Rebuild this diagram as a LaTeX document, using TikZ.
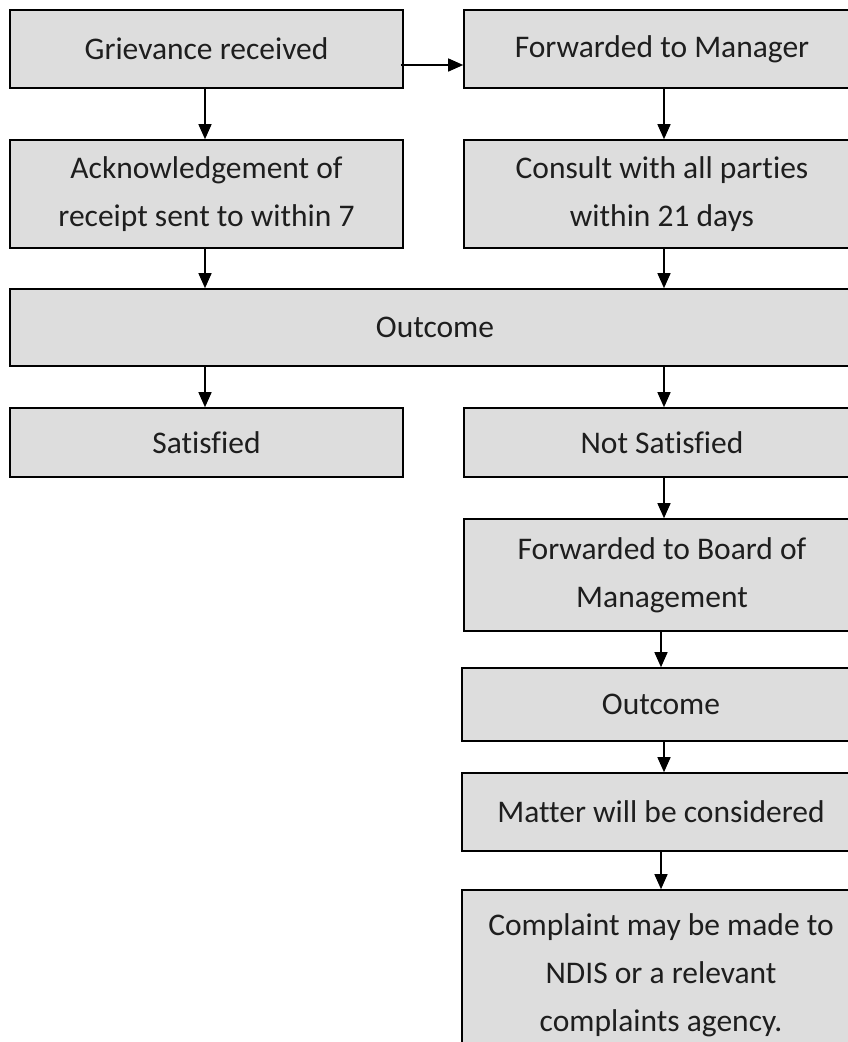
\documentclass[tikz,border=0pt]{standalone}
\usepackage{fontspec}
\setmainfont[Ligatures=NoCommon]{Carlito}
\usetikzlibrary{arrows.meta,calc}
\definecolor{boxfill}{RGB}{221,221,221}
\definecolor{txt}{RGB}{30,30,30}
\tikzset{
  box/.style={draw=black, line width=1.6pt, fill=boxfill, inner sep=0pt,
    align=center, text=txt, font=\fontsize{31.5}{48}\selectfont},
  arr/.style={draw=black, line width=1.4pt, -{Triangle[length=15pt,width=13pt]}}
}
\begin{document}
\begin{tikzpicture}[x=1pt,y=-1pt]
\useasboundingbox (0,0) rectangle (848,1042);
\clip (0,0) rectangle (848,1042);
% helper coordinates for arrow columns
\coordinate (xL) at (205,0);
\coordinate (xR) at (664,0);
% left column boxes (x 10..403)
\node[box, minimum width=393pt, minimum height=78pt] (g) at (206.5,49) {Grievance received};
\node[box, minimum width=393pt, minimum height=108pt] (ack) at (206.5,194) {Acknowledgement of\\receipt sent to within 7};
\node[box, minimum width=393pt, minimum height=69pt] (sat) at (206.5,442.5) {Satisfied};
% right column boxes (x 464..860)
\node[box, minimum width=396pt, minimum height=78pt] (fm) at (662,49) {Forwarded to Manager};
\node[box, minimum width=396pt, minimum height=108pt] (cons) at (662,194) {Consult with all parties\\within 21 days};
\node[box, minimum width=396pt, minimum height=69pt] (ns) at (662,442.5) {Not Satisfied};
\node[box, minimum width=396pt, minimum height=112pt] (board) at (662,575) {Forwarded to Board of\\Management};
\node[box, minimum width=398pt, minimum height=73pt] (out2) at (661,704.5) {Outcome};
\node[box, minimum width=398pt, minimum height=78pt] (matter) at (661,812) {Matter will be considered};
\node[box, minimum width=398pt, minimum height=170pt] (compl) at (661,975) {Complaint may be made to\\NDIS or a relevant\\complaints agency.};
% wide outcome box
\node[box, minimum width=850pt, minimum height=77pt] (out) at (435,327.5) {Outcome};
% connectors
\draw[arr] ($(g.east)+(-3,16)$) -- ($(fm.west)+(0,16)$);
\draw[arr] (g.south -| xL) -- (ack.north -| xL);
\draw[arr] (fm.south -| xR) -- (cons.north -| xR);
\draw[arr] (ack.south -| xL) -- (out.north -| xL);
\draw[arr] (cons.south -| xR) -- (out.north -| xR);
\draw[arr] (out.south -| xL) -- (sat.north -| xL);
\draw[arr] (out.south -| xR) -- (ns.north -| xR);
\draw[arr] (ns.south -| xR) -- (board.north -| xR);
\draw[arr] ($(board.south -| xR)+(-3,0)$) -- ($(out2.north -| xR)+(-3,0)$);
\draw[arr] (out2.south -| xR) -- (matter.north -| xR);
\draw[arr] ($(matter.south -| xR)+(-3,0)$) -- ($(compl.north -| xR)+(-3,0)$);
\end{tikzpicture}
\end{document}
